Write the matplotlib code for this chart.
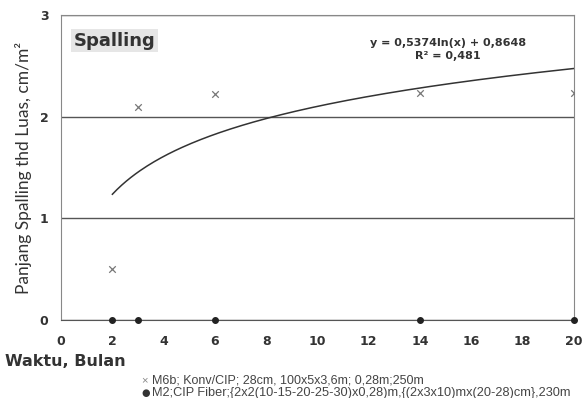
import numpy as np
import matplotlib
matplotlib.use("Agg")
import matplotlib.pyplot as plt

# --- data ---
bulan_m6b = [2, 3, 6, 14, 20]
spalling_m6b = [0.5, 2.1, 2.22, 2.23, 2.23]
bulan_m2 = [2, 3, 6, 14, 20]
spalling_m2 = [0, 0, 0, 0, 0]
fit_a, fit_b = 0.5374, 0.8648
x_ticks = [0, 2, 4, 6, 8, 10, 12, 14, 16, 18, 20]
y_ticks = [0, 1, 2, 3]
label_m6b = "M6b; Konv/CIP; 28cm, 100x5x3,6m; 0,28m;250m"
label_m2 = "M2;CIP Fiber;{2x2(10-15-20-25-30)x0,28)m,{(2x3x10)mx(20-28)cm},230m"

plt.rcParams['font.family'] = ['DejaVu Sans']

fig = plt.figure(figsize=(5.82, 3.98), dpi=100)
ax = fig.add_axes([0.105, 0.196, 0.881, 0.766])

# trend line (logarithmic fit)
xs = np.linspace(min(bulan_m6b), max(bulan_m6b), 200)
ax.plot(xs, fit_a * np.log(xs) + fit_b, color="#333333", lw=1.1, zorder=3)

ax.scatter(bulan_m6b, spalling_m6b, marker="x", s=22, color="#777777", lw=0.9, zorder=4)
ax.scatter(bulan_m2, spalling_m2, marker="o", s=16, color="#222222", zorder=5, clip_on=False)

ax.set_xlim(0, 20)
ax.set_ylim(0, 3)
ax.set_xticks(x_ticks)
ax.set_yticks(y_ticks)
for t in ax.get_xticklabels() + ax.get_yticklabels():
    t.set_fontweight("bold")
    t.set_fontsize(9)
    t.set_color("#333333")
ax.tick_params(axis="x", length=0, pad=11)
ax.tick_params(axis="y", length=0, pad=9)
ax.grid(axis="y", color="#555555", lw=1.0)
for s in ax.spines.values():
    s.set_color("#888888")
    s.set_linewidth(0.8)
ax.spines["bottom"].set_color("#555555")

ax.set_ylabel("Panjang Spalling thd Luas, cm/m\u00b2", fontsize=12.5, color="#333333", labelpad=6,
              family="Lato")
fig.text(0.008, 0.08, "Waktu, Bulan", fontsize=11.5, fontweight="bold", color="#333333")

ax.text(0.5, 2.75, "Spalling", fontsize=13, fontweight="bold", color="#333333",
        va="center", bbox=dict(facecolor="#e6e6e6", edgecolor="none", pad=2))
ax.text(15.1, 2.66, "y = 0,5374ln(x) + 0,8648\nR\u00b2 = 0,481", fontsize=8, fontweight="bold",
        color="#333333", ha="center", va="center", linespacing=1.4)

# legend below the plot
fig.text(0.243, 0.045, "\u00d7", fontsize=8, color="#888888", va="center", family="Liberation Sans")
fig.text(0.261, 0.045, label_m6b, fontsize=9, color="#444444", va="center", family="Liberation Sans")
fig.text(0.243, 0.013, "\u25cf", fontsize=7, color="#333333", va="center", family="DejaVu Sans")
fig.text(0.261, 0.013, label_m2, fontsize=9.2, color="#444444", va="center", family="Liberation Sans")

fig.savefig("out.png", dpi=100)
